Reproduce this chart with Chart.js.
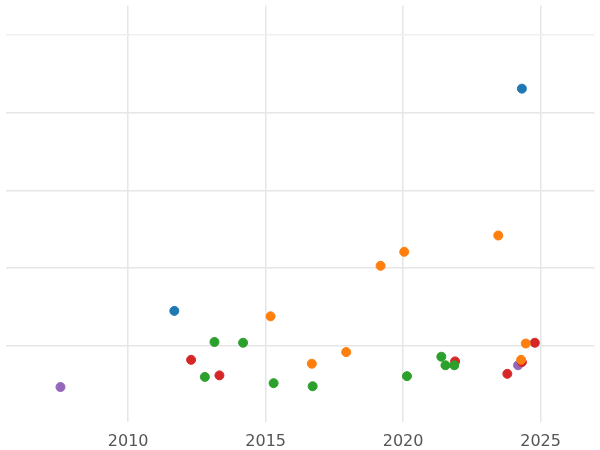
<!DOCTYPE html>
<html><head><meta charset="utf-8">
<script src="https://cdn.jsdelivr.net/npm/chart.js@4"></script>
<style>html,body{margin:0;padding:0;background:#fff}#w{width:600px;height:450px}</style>
</head><body><div id="w"><canvas id="c"></canvas></div>
<script>
const blueX=[2024.32,2011.68], blueY=[4.31,1.45];
const orangeX=[2023.46,2020.04,2019.18,2015.18,2024.46,2017.93,2016.68,2024.29];
const orangeY=[2.42,2.21,2.03,1.38,1.03,0.92,0.77,0.82];
const redX=[2024.79,2012.29,2013.32,2021.89,2023.79,2024.32];
const redY=[1.04,0.82,0.62,0.80,0.64,0.79];
const greenX=[2013.14,2014.18,2012.79,2015.29,2016.71,2021.39,2021.54,2021.86,2020.14];
const greenY=[1.05,1.04,0.60,0.52,0.48,0.86,0.75,0.75,0.61];
const purpleX=[2007.54,2024.18], purpleY=[0.47,0.75];
const xTicks=[2010,2015,2020,2025];
const mk=(xs,ys,c)=>({data:xs.map((x,i)=>({x,y:ys[i]})),backgroundColor:c,borderColor:c,pointRadius:4.5,pointHoverRadius:4.5});
new Chart(document.getElementById('c'),{type:'scatter',
data:{datasets:[mk(blueX,blueY,'#1f77b4'),mk(orangeX,orangeY,'#ff7f0e'),mk(greenX,greenY,'#2ca02c'),mk(redX,redY,'#d62728'),mk(purpleX,purpleY,'#9467bd')]},
options:{responsive:true,maintainAspectRatio:false,animation:false,
layout:{padding:0},
plugins:{legend:{display:false},tooltip:{enabled:false}},
scales:{
x:{type:'linear',min:2005.54,max:2026.96,
afterBuildTicks:a=>{a.ticks=xTicks.map(v=>({value:v}));},
afterFit:a=>{a.height=28;a.paddingLeft=0;a.paddingRight=0;},
ticks:{color:'#555',font:{family:'DejaVu Sans',size:16},callback:v=>String(v),padding:10},
grid:{color:'#e6e6e6',lineWidth:1.5,drawTicks:false},border:{display:false}},
y:{min:0.02,max:5.38,
afterBuildTicks:a=>{a.ticks=[1,2,3,4,5].map(v=>({value:v}));},
afterFit:a=>{a.width=0;a.paddingTop=0;a.paddingBottom=0;},
ticks:{display:false},
grid:{color:c=>c.tick&&c.tick.value===5?'#f0f0f0':'#e6e6e6',lineWidth:1.5,drawTicks:false},border:{display:false}}
}}});
</script></body></html>
